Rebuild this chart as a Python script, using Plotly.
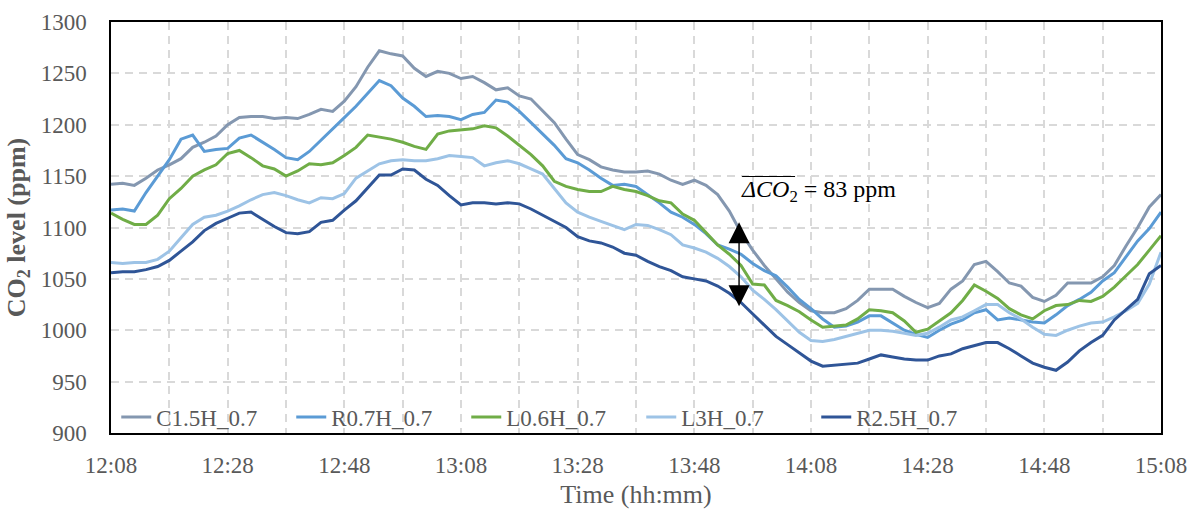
import pandas as pd
import plotly.graph_objects as go

# Sampling instants: every 2 minutes from 12:08 to 15:08
times = pd.date_range("2000-01-01 12:08", "2000-01-01 15:08", freq="2min")

series_names = ["C1.5H_0.7", "R0.7H_0.7", "L0.6H_0.7", "L3H_0.7", "R2.5H_0.7"]

c15h = [1142, 1143, 1141, 1148, 1156, 1161, 1167, 1178, 1183, 1189,
        1200, 1207, 1208, 1208, 1206, 1207, 1206, 1210, 1215, 1213,
        1223, 1237, 1256, 1272, 1269, 1267, 1255, 1247, 1252, 1250,
        1245, 1247, 1241, 1234, 1236, 1228, 1225, 1213, 1202, 1186,
        1171, 1166, 1159, 1156, 1154, 1154, 1155, 1152, 1146, 1142,
        1146, 1141, 1132, 1116, 1095, 1078, 1063, 1050, 1037, 1027,
        1019, 1017, 1017, 1021, 1029, 1040, 1040, 1040, 1033, 1027,
        1022, 1026, 1040, 1048, 1064, 1067, 1057, 1046, 1043, 1032,
        1028, 1034, 1046, 1046, 1046, 1052, 1063, 1082, 1100, 1120,
        1132]

r07h = [1117, 1118, 1116, 1134, 1150, 1166, 1186, 1190, 1174, 1176,
        1177, 1187, 1190, 1183, 1176, 1168, 1166, 1174, 1185, 1195,
        1207, 1218, 1230, 1243, 1238, 1226, 1218, 1208, 1209, 1208,
        1205, 1210, 1212, 1224, 1222, 1213, 1202, 1191, 1180, 1167,
        1163, 1156, 1148, 1141, 1142, 1140, 1132, 1124, 1115, 1110,
        1103, 1094, 1083, 1079, 1074, 1065, 1058, 1053, 1042, 1030,
        1021, 1011, 1003, 1004, 1008, 1014, 1014, 1007, 1000, 996,
        993, 1000, 1006, 1010, 1017, 1020, 1010, 1012, 1010, 1008,
        1007, 1015, 1024, 1030, 1037, 1048, 1056, 1072, 1087, 1099,
        1115]

l06h = [1114, 1108, 1103, 1103, 1112, 1128, 1138, 1150, 1156, 1161,
        1172, 1175, 1168, 1160, 1157, 1150, 1155, 1162, 1161, 1163,
        1170, 1178, 1190, 1188, 1186, 1183, 1179, 1176, 1191, 1194,
        1195, 1196, 1199, 1197, 1189, 1180, 1171, 1160, 1145, 1140,
        1137, 1135, 1135, 1140, 1137, 1135, 1131, 1126, 1124, 1113,
        1107, 1095, 1083, 1074, 1063, 1045, 1044, 1029, 1024, 1018,
        1010, 1003, 1004, 1005, 1011, 1020, 1019, 1017, 1009, 998,
        1001, 1009, 1017, 1029, 1044, 1038, 1031, 1021, 1015, 1011,
        1019, 1024, 1025, 1029, 1028, 1033, 1042, 1053, 1064, 1078,
        1092]

l3h = [1066, 1065, 1066, 1066, 1069, 1077, 1090, 1103, 1110, 1112,
       1116, 1121, 1127, 1132, 1134, 1131, 1127, 1124, 1129, 1128,
       1133, 1148, 1155, 1162, 1165, 1166, 1165, 1165, 1167, 1170,
       1169, 1168, 1160, 1163, 1165, 1162, 1157, 1152, 1138, 1124,
       1115, 1110, 1106, 1102, 1098, 1103, 1102, 1098, 1093, 1083,
       1080, 1076, 1070, 1062, 1052, 1039, 1030, 1020, 1009, 998,
       990, 989, 991, 994, 997, 1000, 1000, 999, 997, 995,
       997, 1003, 1010, 1013, 1019, 1025, 1025, 1017, 1011, 1003,
       996, 995, 1000, 1004, 1007, 1008, 1013, 1019, 1026, 1045,
       1076]

r25h = [1056, 1057, 1057, 1059, 1062, 1068, 1077, 1086, 1097, 1104,
        1109, 1114, 1115, 1108, 1101, 1095, 1094, 1096, 1105, 1107,
        1117, 1126, 1138, 1151, 1151, 1157, 1156, 1147, 1141, 1131,
        1122, 1124, 1124, 1123, 1124, 1123, 1118, 1112, 1106, 1100,
        1091, 1087, 1085, 1081, 1075, 1073, 1067, 1062, 1058, 1052,
        1050, 1048, 1043, 1036, 1027, 1016, 1004, 994, 986, 978,
        970, 965, 966, 967, 968, 972, 976, 974, 972, 971,
        971, 975, 977, 982, 985, 988, 988, 982, 975, 968,
        964, 961, 969, 980, 988, 995, 1010, 1020, 1030, 1055,
        1063]

series_values = [c15h, r07h, l06h, l3h, r25h]
series_colors = ["#8497B0", "#5B9BD5", "#70AD47", "#9DC3E6", "#2F5597"]

# Mean CO2 difference marker
delta_label = "83 ppm"
arrow_time = "2000-01-01 13:55:40"
arrow_top = 1105
arrow_bottom = 1022
label_level = 1136

FONT = "Liberation Serif, Times New Roman, serif"
GREY = "#595959"
GRID = "#D9D9D9"
DASH = "8px,6px"

fig = go.Figure()
for name, vals, col in zip(series_names, series_values, series_colors):
    fig.add_trace(go.Scatter(x=times, y=vals, name=name, mode="lines",
                             line=dict(color=col, width=3)))

# double-headed arrow showing the gap between the highest and lowest curves
fig.add_annotation(x=arrow_time, y=arrow_top, ax=arrow_time, ay=arrow_bottom,
                   xref="x", yref="y", axref="x", ayref="y", text="",
                   showarrow=True, arrowhead=2, arrowside="end+start",
                   arrowsize=3, arrowwidth=1.4, arrowcolor="black",
                   standoff=0, startstandoff=0)
fig.add_annotation(x=arrow_time, y=label_level, xref="x", yref="y",
                   xanchor="left", yanchor="middle", xshift=0,
                   text="<i>ΔCO</i><sub>2</sub> = " + delta_label,
                   showarrow=False, font=dict(family=FONT, size=24, color="black"))
# overbar above the ΔCO2 symbol (mean value)
fig.add_shape(type="line", xref="x", yref="y",
              xsizemode="pixel", xanchor=arrow_time, x0=3, x1=56,
              ysizemode="pixel", yanchor=label_level, y0=14, y1=14,
              line=dict(color="black", width=1.2))

fig.update_layout(
    width=1194, height=509,
    margin=dict(l=111, r=33, t=22, b=76),
    paper_bgcolor="white", plot_bgcolor="white",
    font=dict(family=FONT, size=23, color=GREY),
    showlegend=True,
    legend=dict(orientation="h", x=0.005, y=0.039, xanchor="left", yanchor="middle",
                bgcolor="rgba(0,0,0,0)", font=dict(family=FONT, size=23, color=GREY),
                entrywidth=130, entrywidthmode="pixels", tracegroupgap=0),
)

fig.update_xaxes(
    type="date", automargin=False,
    range=["2000-01-01 12:08", "2000-01-01 15:08"],
    tick0="2000-01-01 12:08", dtick=20 * 60 * 1000, tickformat="%H:%M",
    showgrid=True, gridcolor=GRID, griddash=DASH, gridwidth=1.5,
    minor=dict(dtick=10 * 60 * 1000, tick0="2000-01-01 12:08", showgrid=True,
               gridcolor=GRID, griddash=DASH, gridwidth=1.5),
    showline=True, linecolor="black", linewidth=1.5, mirror=True,
    ticks="", ticklabelstandoff=11,
    tickfont=dict(family=FONT, size=23, color=GREY),
    title=dict(text="Time (hh:mm)", font=dict(family=FONT, size=26, color=GREY), standoff=16),
)
fig.update_yaxes(
    range=[900, 1300], dtick=50, automargin=False,
    showgrid=True, gridcolor=GRID, griddash=DASH, gridwidth=1.5,
    showline=True, linecolor="black", linewidth=1.5, mirror=True,
    ticks="", ticklabelstandoff=18, zeroline=False,
    tickfont=dict(family=FONT, size=23, color=GREY),
    title=dict(text="<b>CO<sub>2</sub> level (ppm)</b>",
               font=dict(family=FONT, size=26, color=GREY), standoff=8),
)

fig.write_html("out.html")
